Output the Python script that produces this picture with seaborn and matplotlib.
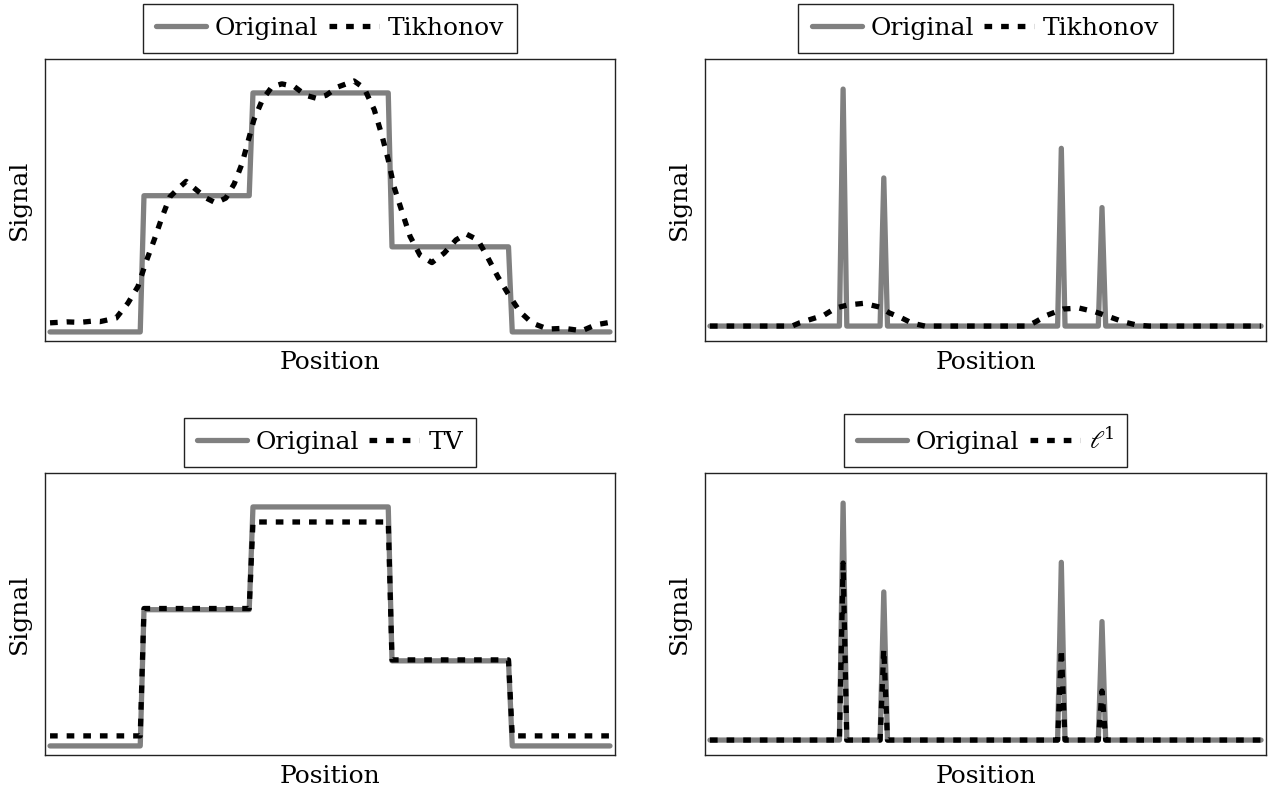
import numpy as np
import matplotlib
matplotlib.use("Agg")
import matplotlib.pyplot as plt
import seaborn as sns

# ---------------- data ----------------
N_SAMPLES = 150
# piecewise-constant signal (left column)
step_edges = [25, 54, 91, 123]            # first sample index of each new level
orig_levels = [0.0, 0.57, 1.0, 0.356, 0.0]
tv_levels = [0.042, 0.575, 0.937, 0.36, 0.042]

# Tikhonov reconstruction of the step signal
tik_step_x = [0, 0.03, 0.054, 0.075, 0.089, 0.118, 0.139, 0.157, 0.171, 0.186, 0.2,
              0.214, 0.229, 0.243, 0.261, 0.279, 0.296, 0.314, 0.329, 0.343,
              0.354, 0.364, 0.379, 0.396, 0.414, 0.436, 0.457, 0.475, 0.493,
              0.514, 0.543, 0.561, 0.579, 0.593, 0.604, 0.614, 0.629, 0.643,
              0.661, 0.682, 0.704, 0.725, 0.743, 0.764, 0.782, 0.8, 0.818,
              0.839, 0.861, 0.889, 0.918, 0.95, 0.975, 1.0]
tik_step_y = [0.038, 0.042, 0.04, 0.045, 0.043, 0.058, 0.12, 0.19, 0.29, 0.385, 0.48,
              0.565, 0.60, 0.63, 0.595, 0.56, 0.54, 0.56, 0.62, 0.705,
              0.80, 0.887, 0.97, 1.025, 1.038, 1.027, 0.99, 0.978, 0.99,
              1.025, 1.05, 1.02, 0.93, 0.82, 0.72, 0.61, 0.50, 0.40,
              0.32, 0.29, 0.33, 0.385, 0.41, 0.385, 0.31, 0.23, 0.16,
              0.085, 0.037, 0.012, 0.015, 0.005, 0.03, 0.04]

# sparse spike signal (right column)
spike_idx = [36, 47, 95, 106]
spike_orig = [1.0, 0.625, 0.75, 0.5]
spike_l1 = [0.747, 0.384, 0.384, 0.207]

# Tikhonov reconstruction of the spike signal
tik_spk_x = [0.0, 0.149, 0.163, 0.185, 0.207, 0.228, 0.250, 0.279, 0.308, 0.326,
             0.348, 0.366, 0.39, 0.576, 0.591, 0.612, 0.641, 0.670, 0.699,
             0.725, 0.75, 0.775, 0.797, 1.0]
tik_spk_y = [0.0, 0.0, 0.014, 0.030, 0.046, 0.076, 0.089, 0.096, 0.080, 0.055,
             0.034, 0.013, 0.0, 0.0, 0.018, 0.046, 0.072, 0.076, 0.060,
             0.039, 0.018, 0.004, 0.0, 0.0]

# ---------------- build sampled signals ----------------
grid = np.linspace(0, 1, N_SAMPLES)
bounds = [0] + step_edges + [N_SAMPLES]
orig_step = np.empty(N_SAMPLES)
tv_step = np.empty(N_SAMPLES)
for k in range(len(orig_levels)):
    orig_step[bounds[k]:bounds[k + 1]] = orig_levels[k]
    tv_step[bounds[k]:bounds[k + 1]] = tv_levels[k]
orig_spk = np.zeros(N_SAMPLES)
l1_spk = np.zeros(N_SAMPLES)
orig_spk[spike_idx] = spike_orig
l1_spk[spike_idx] = spike_l1

# ---------------- style ----------------
sns.set_theme(style="white")
plt.rcParams["font.family"] = ["DejaVu Serif"]
plt.rcParams["mathtext.fontset"] = "dejavuserif"
plt.rcParams["text.color"] = "black"
plt.rcParams["axes.labelcolor"] = "black"
FS = 18
LW = 3.8
GRAY = "#808080"
DASH = (0, (1.45, 1.7))

W, H = 1269, 791
fig = plt.figure(figsize=(W / 100, H / 100), dpi=100)
fig.patch.set_facecolor("white")


def make_ax(x0, y0, x1, y1):
    return fig.add_axes([x0 / W, 1 - y1 / H, (x1 - x0) / W, (y1 - y0) / H])


axes = [make_ax(45, 59, 615, 341), make_ax(705, 59, 1266, 341),
        make_ax(45, 473, 615, 755), make_ax(705, 473, 1266, 755)]

panels = [
    (grid, orig_step, tik_step_x, tik_step_y, "Tikhonov", (-0.038, 1.142)),
    (grid, orig_spk, tik_spk_x, tik_spk_y, "Tikhonov", (-0.063, 1.127)),
    (grid, orig_step, grid, tv_step, "TV", (-0.038, 1.142)),
    (grid, orig_spk, grid, l1_spk, r"$\ell^1$", (-0.063, 1.127)),
]

for ax, (ox, oy, rx, ry, name, ylim) in zip(axes, panels):
    sns.lineplot(x=ox, y=oy, ax=ax, color=GRAY, linewidth=LW, sort=False,
                 estimator=None, label="Original", zorder=2)
    sns.lineplot(x=rx, y=ry, ax=ax, color="black", linewidth=LW, sort=False,
                 estimator=None, linestyle=DASH, label=name, zorder=3)
    ax.set_xlim(-0.009, 1.009)
    ax.set_ylim(*ylim)
    ax.set_xticks([])
    ax.set_yticks([])
    ax.set_xlabel("Position", fontsize=FS, labelpad=7.5, color="black")
    ax.set_ylabel("Signal", fontsize=FS, labelpad=10, color="black")
    for sp in ax.spines.values():
        sp.set_visible(True)
        sp.set_color("#222222")
        sp.set_linewidth(1.0)
    leg = ax.legend(loc="lower center", bbox_to_anchor=(0.5, 1.0 + 6 / 282),
                    borderaxespad=0, ncol=2, fontsize=FS, frameon=True,
                    fancybox=False, framealpha=1, edgecolor="#222222",
                    handlelength=2.0, handletextpad=0.36, columnspacing=0.4,
                    borderpad=0.53)
    leg.get_frame().set_linewidth(1.0)
    for t in leg.get_texts():
        t.set_color("black")

fig.savefig("out.png", dpi=100, facecolor="white")
